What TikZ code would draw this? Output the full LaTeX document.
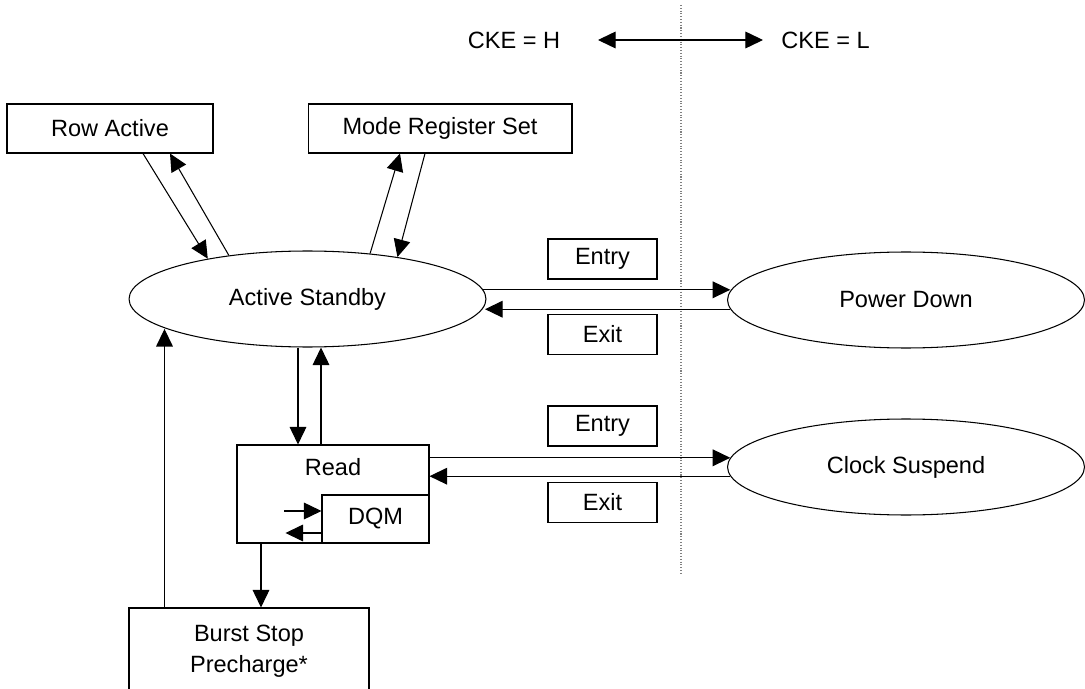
\documentclass[tikz,border=0pt]{standalone}
\usepackage{fontspec}
\setmainfont{Liberation Sans}
\usetikzlibrary{shapes.geometric,arrows.meta,calc}

\begin{document}
\begin{tikzpicture}[x=0.02cm,y=-0.02cm,line width=0.6pt,
  every node/.style={font=\fontsize{13.4}{16}\selectfont},
  box/.style={draw,rectangle,inner sep=0pt},
  state/.style={draw,ellipse,inner sep=0pt,minimum width=7.14cm,minimum height=1.92cm},
  tag/.style={box,minimum width=2.18cm,minimum height=0.8cm},
  arr/.style={-{Triangle[length=10pt,width=9.5pt]}},
  darr/.style={{Triangle[length=10pt,width=9.5pt]}-{Triangle[length=10pt,width=9.5pt]}}]
\useasboundingbox (0,0) rectangle (1085,689);
\node[box,minimum width=4.12cm,minimum height=0.98cm] (rowact) at (110,128.5) {Row Active};
\node[box,minimum width=5.28cm,minimum height=0.98cm] (mrs) at (440,128.5) {Mode Register Set};
\node[state] (stby) at (307.5,299) {Active Standby};
\node[state] (pdown) at (906,300) {Power Down};
\node[state] (csusp) at (906,467) {Clock Suspend};
\node[tag] (entry1) at (602.5,259) {Entry};
\node[tag] (exit1) at (602.5,334.5) {Exit};
\node[tag] (entry2) at (602.5,426) {Entry};
\node[tag] (exit2) at (602.5,502.5) {Exit};
\node[box,minimum width=3.84cm,minimum height=1.96cm] (read) at (333,494) {};
\node (readlbl) at (333,467) {Read};
\node[box,minimum width=2.14cm,minimum height=0.96cm,anchor=south east] (dqm) at (read.south east) {DQM};
\node[box,minimum width=4.8cm,minimum height=1.72cm,align=center,font=\fontsize{13.4}{17.5}\selectfont] (burst) at (249,651) {Burst Stop\\Precharge*};
\node (ckeh) at (514,40) {CKE = H};
\node[anchor=west] (ckel) at (775,40) {CKE = L};
\coordinate (ckeleft) at (598,40);
\coordinate (ckeright) at (763,40);
\coordinate (divtop) at (681,5);
\coordinate (divbot) at (681,575);

\draw[densely dotted,gray] (divtop) -- (divbot);
\draw[darr] (ckeleft) -- (ckeright);

\draw[arr] ($(rowact.south)+(33,0)$) -- (stby.158);
\draw[arr] (stby.151) -- ($(rowact.south)+(60,0)$);
\draw[arr] (stby.36) -- ($(mrs.south)+(-40,0)$);
\draw[arr] ($(mrs.south)+(-15,0)$) -- (stby.25);

\draw[arr] (stby.3) -- (pdown.177 |- stby.3);
\draw[arr] (pdown.183) -- (stby.-2.6 |- pdown.183);
\draw[arr] (read.east |- csusp.177) -- (csusp.177);
\draw[arr] (csusp.183) -- (read.east |- csusp.183);

\coordinate (rdin) at ($(read.north)+(-35,0)$);
\coordinate (rdout) at ($(read.north)+(-12,0)$);
\coordinate (rdbot) at ($(read.south)+(-72,0)$);
\coordinate (bsup) at ($(burst.north west)+(36,0)$);
\draw[arr] (rdin |- stby.south) -- (rdin);
\draw[arr] (rdout) -- (rdout |- stby.south);
\draw[arr] (rdbot) -- (rdbot |- burst.north);
\draw[arr] (bsup) -- (bsup |- stby.192);

\draw[arr] ($(dqm.west)+(-37,-8)$) -- ($(dqm.west)+(0,-8)$);
\draw[arr] ($(dqm.west)+(0,14)$) -- ($(dqm.west)+(-36,14)$);
\end{tikzpicture}
\end{document}
